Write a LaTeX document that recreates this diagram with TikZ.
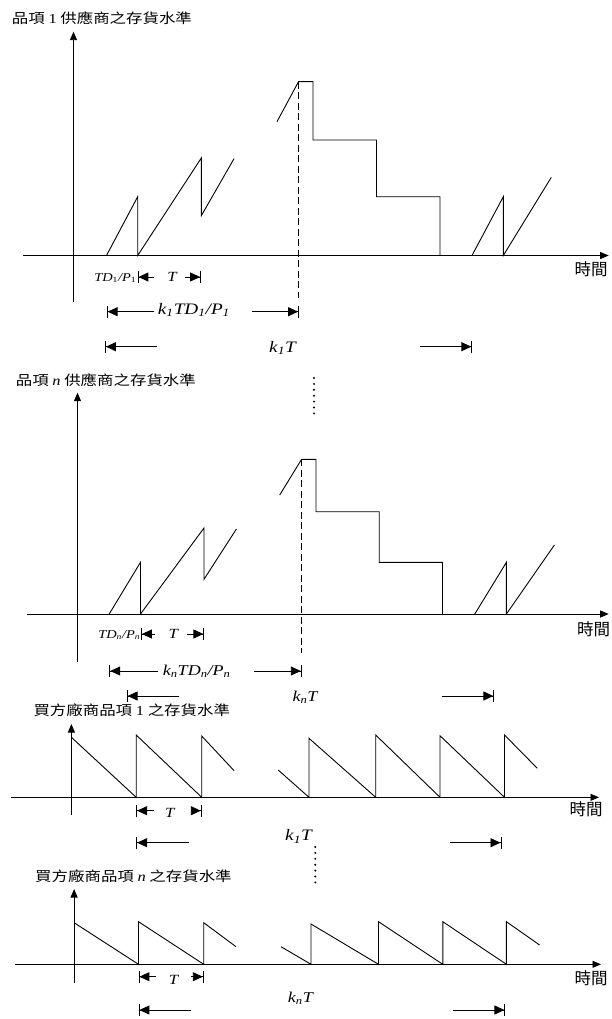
\documentclass[tikz,border=0pt]{standalone}
\usepackage{fontspec}
\setmainfont{Liberation Serif}
\newfontfamily\cjk{Noto Sans CJK TC}
\usetikzlibrary{arrows.meta}

\tikzset{
  axis/.style={line width=0.9pt, -{Triangle[length=8.5pt,width=7pt]}},
  level/.style={line width=0.9pt},
  guide/.style={line width=0.9pt, dash pattern=on 7pt off 3.5pt},
  vdots/.style={line width=2.2pt, line cap=round, dash pattern=on 0pt off 5.9pt},
  dimarr/.style={line width=0.9pt, -{Triangle[length=10pt,width=9pt] Bar[width=12pt]}},
  title/.style={anchor=west, inner sep=0pt, font=\cjk\fontsize{13.7}{14}\selectfont,
                xscale=1.2, transform shape},
  timelbl/.style={inner sep=0pt, font=\cjk\fontsize{16.5}{17}\selectfont},
  lbl/.style={inner sep=0pt, font=\fontsize{14}{14}\selectfont\itshape, xscale=1.2, transform shape},
  smalllbl/.style={lbl, font=\fontsize{12}{12}\selectfont\itshape},
  biglbl/.style={lbl, font=\fontsize{16}{16}\selectfont\itshape}
}

\begin{document}
\begin{tikzpicture}[x=1pt, y=-1pt]
  \useasboundingbox (0,0) rectangle (611,1019);
  \def\dimrow#1#2#3#4#5{\draw[dimarr] (#3,#1) -- (#2,#1); \draw[dimarr] (#4,#1) -- (#5,#1);}

  % supplier, item 1
  \node[title] (ttl1) at (11.7,18.3) {品項 \textrm{1} 供應商之存貨水準};
  \draw[axis] (73.5,301.7) -- (73.5,31.7);
  \draw[axis] (23.4,255.5) -- (608.7,255.5);
  \node[timelbl] (tm1) at (591,269) {時間};
  \draw[level] (106.5,255.5) -- (137.7,196.7) -- (137.7,255.5) -- (201.3,158) -- (201.3,215.7) -- (234,158.7);
  \draw[level] (277,121.7) -- (298.5,81.7) -- (313,81.7) -- (313,140) -- (376.5,140)
               -- (376.5,196.7) -- (440,196.7) -- (440,255.5);
  \draw[level] (472,255.5) -- (503.3,196.7) -- (503.3,255.5) -- (551.3,177.3);
  \draw[guide] (298.5,81.7) -- (298.5,298);
  \node[smalllbl, anchor=east] (p1a) at (136.5,278) {TD\textsubscript{\upshape 1}/P\textsubscript{\upshape 1}};
  \node[lbl] (p1t) at (172,277) {T};
  \dimrow{277}{137.5}{154}{185}{201}
  \node[biglbl] (p1k) at (194,310) {k\textsubscript{1}TD\textsubscript{1}/P\textsubscript{1}};
  \dimrow{311.7}{106.7}{154.3}{251.7}{299}
  \node[biglbl] (p1kt) at (282.5,348) {k\textsubscript{1}T};
  \dimrow{346.7}{105}{157.3}{420}{472.3}

  \draw[vdots] (314,378) -- (314,415);

  % supplier, item n
  \node[title] (ttl2) at (15.6,380) {品項 \textrm{\textit{n}} 供應商之存貨水準};
  \draw[axis] (77.5,661.7) -- (77.5,392.7);
  \draw[axis] (26.5,614) -- (608.7,614);
  \node[timelbl] (tm2) at (593.5,629) {時間};
  \draw[level] (109.2,614) -- (140.5,562.3) -- (140.5,614) -- (204,528) -- (204,579.3) -- (236.4,529);
  \draw[level] (279.7,495) -- (301.6,459.3) -- (316,459.3) -- (316,511.7) -- (379.2,511.7)
               -- (379.2,562.3) -- (442.5,562.3) -- (442.5,614);
  \draw[level] (474.8,614) -- (506.4,562.3) -- (506.4,614) -- (554.4,545);
  \draw[guide] (301.6,459.3) -- (301.6,653.3);
  \node[smalllbl, anchor=east] (p2a) at (140.5,635) {TD\textsubscript{n}/P\textsubscript{n}};
  \node[lbl] (p2t) at (173.3,634) {T};
  \dimrow{634}{141}{155}{186.7}{204.3}
  \node[biglbl, font=\fontsize{15}{15}\selectfont\itshape] (p2k) at (196.7,671) {k\textsubscript{n}TD\textsubscript{n}/P\textsubscript{n}};
  \dimrow{671}{109.3}{158.3}{254}{301.7}
  \node[biglbl, font=\fontsize{15}{15}\selectfont\itshape] (p2kt) at (305,697) {k\textsubscript{n}T};
  \dimrow{696}{126.7}{179.3}{441.7}{494.3}

  % buyer, item 1
  \node[title] (ttl3) at (33.3,710) {買方廠商品項 \textrm{1} 之存貨水準};
  \draw[axis] (71.4,815) -- (71.4,724);
  \draw[axis] (11,797.3) -- (599,797.3);
  \node[timelbl] (tm3) at (586,809) {時間};
  \draw[level] (71.4,737.3) -- (136.2,797.3) -- (136.2,735) -- (201.7,797.3) -- (201.7,736) -- (234.1,770.7);
  \draw[level] (278.2,770) -- (309,797.3) -- (309,738.3) -- (375.7,797.3) -- (375.7,735) -- (440,797.3)
               -- (440,735.7) -- (504.5,797.3) -- (504.5,735) -- (537.3,768.3);
  \node[lbl] (p3t) at (169.7,813) {T};
  \dimrow{810.7}{136.2}{154}{191}{201.7}
  \node[biglbl] (p3kt) at (298.5,836.7) {k\textsubscript{1}T};
  \dimrow{842.7}{136.2}{189.2}{450}{501.4}

  \draw[vdots] (315.3,847) -- (315.3,884);

  % buyer, item n
  \node[title] (ttl4) at (35,876) {買方廠商品項 \textrm{\textit{n}} 之存貨水準};
  \draw[axis] (74.1,982.7) -- (74.1,889);
  \draw[axis] (14.8,964.3) -- (601,964.3);
  \node[timelbl] (tm4) at (591,978) {時間};
  \draw[level] (74.1,922.7) -- (138.5,964.3) -- (138.5,921.7) -- (203.7,964.3) -- (203.7,922.7) -- (236,946.7);
  \draw[level] (281,946.7) -- (311,964.3) -- (311,924) -- (378.5,964.3) -- (378.5,921.7) -- (442.8,964.3)
               -- (442.8,921.7) -- (506.4,964.3) -- (506.4,921.7) -- (539.6,945);
  \node[lbl] (p4t) at (173.6,980) {T};
  \dimrow{976.7}{138.5}{156}{191}{203.7}
  \node[biglbl, font=\fontsize{15}{15}\selectfont\itshape] (p4kt) at (300.4,998.3) {k\textsubscript{n}T};
  \dimrow{1010}{138.5}{191.2}{452.6}{505.3}
\end{tikzpicture}
\end{document}
